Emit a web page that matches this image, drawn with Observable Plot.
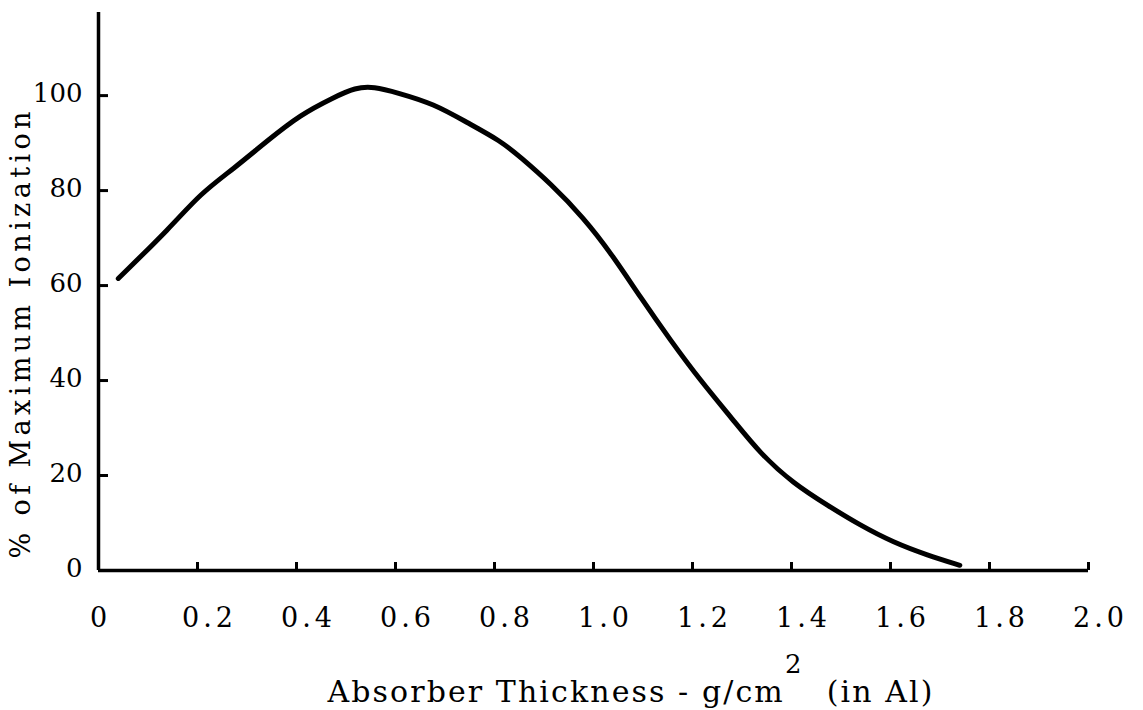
<!DOCTYPE html>
<html>
<head>
<meta charset="utf-8">
<script src="https://cdn.jsdelivr.net/npm/d3@7"></script>
<script src="https://cdn.jsdelivr.net/npm/@observablehq/plot@0.6"></script>
<style>
  html, body { margin: 0; padding: 0; background: #fff; }
</style>
</head>
<body>
<div id="chart"></div>
<script>
// Absorber thickness (g/cm^2 in Al)
const thickness = [0.04, 0.145, 0.206, 0.273, 0.341, 0.408, 0.475, 0.519, 0.556, 0.604, 0.677, 0.745, 0.812, 0.853, 0.913, 0.98, 1.037, 1.095, 1.156, 1.216, 1.283, 1.337, 1.404, 1.473, 1.539, 1.606, 1.675, 1.74];
// % of maximum ionization
const ionization = [61.5, 72.2, 79.4, 84.6, 90.5, 96.0, 99.6, 101.7, 101.9, 100.6, 98.3, 94.3, 90.5, 87.0, 81.5, 74.3, 66.6, 57.5, 48.4, 40.0, 31.6, 24.6, 18.3, 13.7, 9.5, 5.9, 3.2, 1.1];

const xTicks = [0, 0.2, 0.4, 0.6, 0.8, 1.0, 1.2, 1.4, 1.6, 1.8, 2.0];
const xTickLabels = ["0", "0.2", "0.4", "0.6", "0.8", "1.0", "1.2", "1.4", "1.6", "1.8", "2.0"];
const yTicks = [0, 20, 40, 60, 80, 100];
const yTickLabels = ["0", "20", "40", "60", "80", "100"];

const xLabelMain = "Absorber Thickness - g/cm";
const xLabelSup = "2";
const xLabelTail = "\u00a0\u00a0(in Al)";
const yLabel = "% of Maximum Ionization";

const data = thickness.map((x, i) => ({x, y: ionization[i]}));
const xFmt = d => xTickLabels[xTicks.findIndex(t => Math.abs(t - d) < 1e-9)];
const yFmt = d => yTickLabels[yTicks.indexOf(d)];

const chart = Plot.plot({
  width: 1143,
  height: 710,
  marginLeft: 98,
  marginRight: 55,
  marginTop: 12,
  marginBottom: 140,
  style: {fontFamily: "'DejaVu Serif', serif", color: "#000", background: "#fff"},
  x: {domain: [0, 2], label: null},
  y: {domain: [0, 117.5], label: null},
  marks: [
    // inward tick marks
    Plot.axisX(xTicks.slice(1), {tickSize: 8, dy: -8, fill: "none", stroke: "#000", strokeWidth: 3, label: null}),
    Plot.axisY(yTicks.slice(1), {tickSize: 10, dx: 10, fill: "none", stroke: "#000", strokeWidth: 3, label: null}),
    // tick labels
    Plot.axisX([0], {tickSize: 0, tickPadding: 37, tickFormat: xFmt, fontSize: 27, fill: "#000", label: null}),
    Plot.axisX(xTicks.slice(1), {tickSize: 0, tickPadding: 37, tickFormat: xFmt, fontSize: 27, fill: "#000", dx: 12, label: null, className: "xlab"}),
    Plot.axisY(yTicks, {tickSize: 0, tickPadding: 16, tickFormat: yFmt, fontSize: 26, fill: "#000", dy: -2, label: null}),
    // axis lines
    Plot.ruleY([0], {stroke: "#000", strokeWidth: 3.5}),
    Plot.ruleX([0], {stroke: "#000", strokeWidth: 3.5}),
    // curve
    Plot.line(data, {x: "x", y: "y", curve: "basis", stroke: "#000", strokeWidth: 5, strokeLinecap: "round"})
  ]
});

document.getElementById("chart").appendChild(chart);

const svg = d3.select(chart);
svg.selectAll(".xlab text").style("letter-spacing", "4px");

// x axis title with superscript
const xt = svg.append("text")
  .attr("x", 630)
  .attr("y", 702)
  .attr("text-anchor", "middle")
  .attr("font-family", "'DejaVu Serif', serif")
  .attr("font-size", 30)
  .attr("fill", "#000")
  .attr("textLength", 605)
  .attr("lengthAdjust", "spacing");
xt.append("tspan").text(xLabelMain);
xt.append("tspan").attr("dy", -29).attr("font-size", 26).text(xLabelSup);
xt.append("tspan").attr("dy", 29).text(xLabelTail);

// y axis title
svg.append("text")
  .attr("transform", "translate(20,335) rotate(-90)")
  .attr("text-anchor", "middle")
  .attr("dominant-baseline", "central")
  .attr("font-family", "'DejaVu Serif', serif")
  .attr("font-size", 27)
  .attr("fill", "#000")
  .attr("textLength", 447)
  .attr("lengthAdjust", "spacing")
  .text(yLabel);
</script>
</body>
</html>
